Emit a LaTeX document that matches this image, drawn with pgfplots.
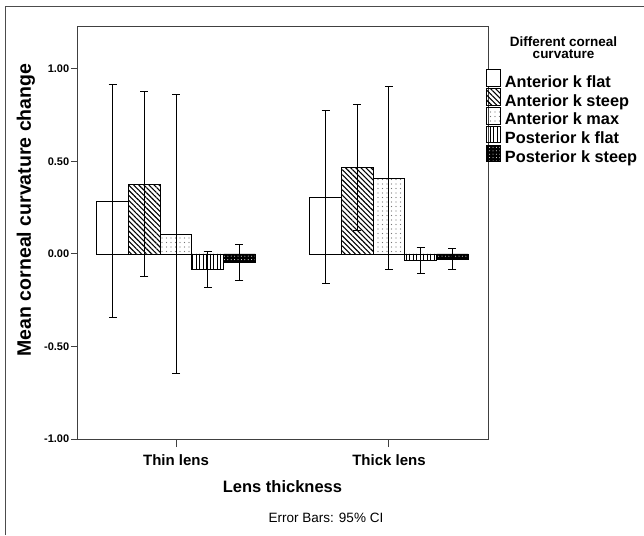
\documentclass[border=0pt]{standalone}
\usepackage{fontspec}
\setmainfont{Liberation Sans}
\usepackage{pgfplots}
\usepackage{pgfplotstable}
\pgfplotsset{compat=1.18}
\usetikzlibrary{patterns,patterns.meta}

\pgfplotstableread{
x y e
0 0.286 0.628
1 0.308 0.467
}\kflat
\pgfplotstableread{
x y e
0 0.378 0.502
1 0.469 0.341
}\ksteep
\pgfplotstableread{
x y e
0 0.108 0.756
1 0.409 0.494
}\kmax
\pgfplotstableread{
x y e
0 -0.083 0.099
1 -0.034 0.071
}\pflat
\pgfplotstableread{
x y e
0 -0.047 0.096
1 -0.027 0.055
}\psteep

\pgfplotsset{legbox/.style={legend image code/.code={\draw[##1] (0pt,-3pt) rectangle (14pt,13.5pt);}}}

\begin{document}
\begin{tikzpicture}
\useasboundingbox (-77pt,-96pt) rectangle (567pt,439pt);
\fill[white] (-77pt,-96pt) rectangle (567pt,439pt);
\draw[black!70, line width=1pt] (-71pt,-96pt) -- (-71pt,432pt) -- (567pt,432pt);
\begin{axis}[
  at={(0pt,0pt)}, anchor=south west,
  scale only axis, width=411pt, height=412pt,
  ybar=0pt, bar width=31.7pt,
  xmin=-0.465, xmax=1.465,
  ymin=-1, ymax=1.227,
  axis line style={draw=black!75, line width=1pt},
  tick align=outside,
  xtick pos=bottom, ytick pos=left,
  xtick={0,1}, xticklabels={Thin lens, Thick lens},
  ytick={-1,-0.5,0,0.5,1},
  xtick style={draw=black!75, line width=1pt, /pgfplots/major tick length=8pt},
  ytick style={draw=black!75, line width=1pt, /pgfplots/major tick length=6pt},
  xticklabel style={font=\bfseries\fontsize{15}{17}\selectfont, yshift=-8pt},
  yticklabel style={font=\bfseries\fontsize{11}{13}\selectfont, /pgf/number format/.cd, fixed, fixed zerofill, precision=2, assume math mode=true},
  error bars/y dir=both, error bars/y explicit,
  error bars/error bar style={draw=black, line width=1pt},
  error bars/error mark options={rotate=90, draw=black, line width=1pt, mark size=4pt},
  legend style={at={(rel axis cs:0.995,0.898)}, anchor=north west, draw=none, fill=none,
    inner sep=0pt, row sep=-3pt, column sep=4pt,
    nodes={inner sep=0pt, text height=12pt, text depth=4pt, font=\bfseries\fontsize{16.3}{17}\selectfont}},
  legend cell align=left,
]
\addplot[draw=black, line width=0.8pt, fill=white, legbox] table[x=x, y=y, y error=e] {\kflat};
\addlegendentry{Anterior k flat}
\addplot[draw=black, line width=0.8pt, pattern={Lines[angle=-45, distance=3.6pt, line width=1.1pt]}, pattern color=black, legbox] table[x=x, y=y, y error=e] {\ksteep};
\addlegendentry{Anterior k steep}
\addplot[draw=black, line width=0.8pt, pattern={Dots[distance=4.5pt, radius=0.55pt]}, pattern color=black!55, legbox] table[x=x, y=y, y error=e] {\kmax};
\addlegendentry{Anterior k max}
\addplot[draw=black, line width=0.8pt, pattern={Lines[angle=90, distance=3.5pt, line width=1pt]}, pattern color=black, legbox] table[x=x, y=y, y error=e] {\pflat};
\addlegendentry{Posterior k flat}
\addplot[draw=black, line width=0.8pt, fill=black, postaction={pattern={Dots[distance=3.4pt, radius=0.5pt]}, pattern color=white}, legbox] table[x=x, y=y, y error=e] {\psteep};
\addlegendentry{Posterior k steep}
\end{axis}
\node[rotate=90, font=\bfseries\fontsize{19.5}{22}\selectfont] at (-51pt,229pt) {Mean corneal curvature change};
\node[font=\bfseries\fontsize{16.5}{18}\selectfont] at (205.5pt,-48pt) {Lens thickness};
\node[font=\fontsize{13.5}{15}\selectfont] at (249pt,-79pt) {Error Bars: 95\% CI};
\node[font=\bfseries\fontsize{13.5}{12.5}\selectfont, align=center] at (486.5pt,391.5pt) {Different corneal\\curvature};
\end{tikzpicture}
\end{document}
